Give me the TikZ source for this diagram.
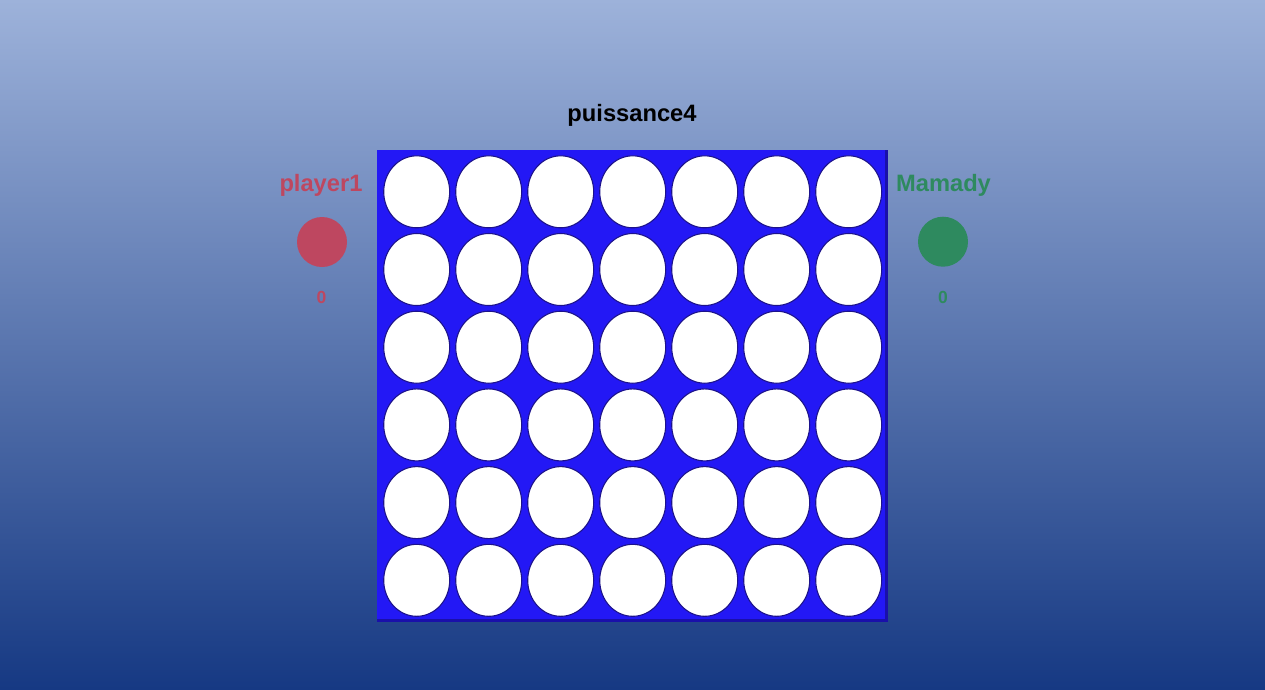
\documentclass[tikz,border=0pt]{standalone}
\usepackage{fontspec}
\setmainfont{Liberation Sans}
\usepackage{tikz}
\usetikzlibrary{positioning,shapes,calc}
\definecolor{bgtop}{RGB}{157,178,218}
\definecolor{bgmid}{RGB}{99,127,182}
\definecolor{bgbot}{RGB}{22,57,131}
\definecolor{boardblue}{RGB}{35,24,245}
\definecolor{boardedge}{RGB}{26,16,170}
\definecolor{holeedge}{RGB}{28,18,140}
\definecolor{redplayer}{RGB}{190,71,96}
\definecolor{greenplayer}{RGB}{46,138,95}
\tikzset{
    textnode/.style={inner sep=0pt, anchor=base, font=\bfseries\fontsize{23.7}{28}\selectfont},
    % Hole of the board
    node_hole/.style = {ellipse, fill=white, draw=holeedge, line width=1.1pt, minimum width=66pt, minimum height=72pt, inner sep=0pt},
    % Player disc
    node_disc/.style = {circle, minimum size=50pt, inner sep=0pt},
    % Score
    node_score/.style = {textnode, font=\bfseries\fontsize{17.5}{21}\selectfont}
}

\begin{document}
\begin{tikzpicture}[x=1pt, y=-1pt]

        % background
        \shade[top color=bgtop, middle color=bgmid, bottom color=bgbot] (0,0) rectangle (1265,689);
        \useasboundingbox (0,0) rectangle (1265,689);

        \node[textnode] (title) at (632,121.7) {puissance4};

        % board
        \fill[boardedge] (377,150) rectangle (888,622);
        \fill[boardblue] (377,150) rectangle (885,619);
        \foreach \r in {1,...,6}
            \foreach \c in {1,...,7}
                \node[node_hole] (hole-\r-\c) at ({416.7+72*(\c-1)},{191.8+77.7*(\r-1)}) {};

        % players
        \node[textnode, redplayer] (name1) at (321,191.5) {player1};
        \node[node_disc, fill=redplayer] (disc1) at (322,242) {};
        \node[node_score, redplayer] (score1) at (321.5,303) {0};

        \node[textnode, greenplayer] (name2) at (943.5,191.5) {Mamady};
        \node[node_disc, fill=greenplayer] (disc2) at (943,241.7) {};
        \node[node_score, greenplayer] (score2) at (943,303) {0};
    \end{tikzpicture}
\end{document}
